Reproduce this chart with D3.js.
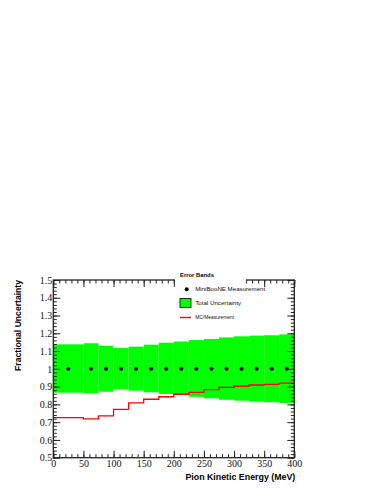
<!DOCTYPE html>
<html>
<head>
<meta charset="utf-8">
<script src="https://cdn.jsdelivr.net/npm/d3@7"></script>
<style>
body { margin: 0; background: #fff; }
</style>
</head>
<body>
<div class="plot"></div>
<script>
// bins (MeV): first bin is 0-50, then 25 MeV wide
const binEdges = [0, 50, 75, 100, 125, 150, 175, 200, 225, 250, 275, 300, 325, 350, 375, 400];
const bandHigh = [1.138, 1.144, 1.130, 1.117, 1.125, 1.136, 1.147, 1.154, 1.162, 1.168, 1.177, 1.183, 1.187, 1.189, 1.194];
const bandLow  = [0.866, 0.862, 0.871, 0.885, 0.877, 0.868, 0.858, 0.853, 0.843, 0.834, 0.826, 0.821, 0.815, 0.812, 0.808];
const mcRatio  = [0.725, 0.719, 0.735, 0.772, 0.808, 0.829, 0.843, 0.857, 0.868, 0.883, 0.896, 0.902, 0.909, 0.913, 0.920];
const measured = [1, 1, 1, 1, 1, 1, 1, 1, 1, 1, 1, 1, 1, 1, 1];

const xTicks = [0, 50, 100, 150, 200, 250, 300, 350, 400];
const yTicks = [0.5, 0.6, 0.7, 0.8, 0.9, 1.0, 1.1, 1.2, 1.3, 1.4, 1.5];
const yLabels = ['0.5', '0.6', '0.7', '0.8', '0.9', '1', '1.1', '1.2', '1.3', '1.4', '1.5'];

const legendItems = ['MiniBooNE Measurement', 'Total Uncertainty', 'MC/Measurement'];

const width = 383;
const height = 495;
const pLeft = 53.3, pRight = 294.3, pTop = 280, pBottom = 457.7;
const axisColor = '#222';
const sans = '"Liberation Sans", Arial, sans-serif';

const svg = d3.select('.plot')
	.append('svg')
	.attr('width', width)
	.attr('height', height);

const x = d3.scaleLinear().domain([0, 400]).range([pLeft, pRight]);
const y = d3.scaleLinear().domain([0.5, 1.5]).range([pBottom, pTop]);

// scale a text's font so that it spans the given width
function fitText(sel, w) {
	sel.style('font-size', '10px');
	const len = sel.node().getComputedTextLength();
	sel.style('font-size', (10 * w / len).toFixed(2) + 'px');
}

const bins = binEdges.slice(0, -1).map((lo, i) => ({
	lo: lo,
	hi: binEdges[i + 1],
	low: bandLow[i],
	high: bandHigh[i],
	mc: mcRatio[i],
	val: measured[i]
}));

// green uncertainty band
svg.selectAll('rect.band')
	.data(bins)
	.enter()
	.append('rect')
	.attr('class', 'band')
	.attr('x', d => x(d.lo))
	.attr('width', d => x(d.hi) - x(d.lo))
	.attr('y', d => y(d.high))
	.attr('height', d => y(d.low) - y(d.high))
	.style('fill', '#00ff00');

// red MC/measurement histogram
const stepPts = bins.map(d => [d.lo, d.mc]);
stepPts.push([400, bins[bins.length - 1].mc]);
svg.append('path')
	.datum(stepPts)
	.attr('d', d3.line().x(d => x(d[0])).y(d => y(d[1])).curve(d3.curveStepAfter))
	.style('fill', 'none')
	.style('stroke', '#ff0000')
	.style('stroke-width', 1.3);

// measurement points
svg.selectAll('circle.pt')
	.data(bins)
	.enter()
	.append('circle')
	.attr('class', 'pt')
	.attr('cx', d => x((d.lo + d.hi) / 2))
	.attr('cy', d => y(d.val))
	.attr('r', 2)
	.style('fill', '#000');

// axes, ticks pointing inwards
function styleAxis(g) {
	g.select('.domain').remove();
	g.selectAll('.tick line').style('stroke', axisColor).style('stroke-width', 1);
	g.selectAll('.tick text')
		.style('font-family', '"Liberation Serif", serif')
		.style('font-size', '10px')
		.style('fill', '#111');
}

const xMinor = d3.range(0, 401, 10);
const yMinor = d3.range(25, 76).map(i => i / 50);

svg.append('g')
	.attr('transform', `translate(0,${pBottom})`)
	.call(d3.axisBottom(x).tickValues(xTicks).tickSize(-7).tickPadding(2.5).tickFormat(d3.format('d')))
	.call(styleAxis);
svg.append('g')
	.attr('transform', `translate(0,${pBottom})`)
	.call(d3.axisBottom(x).tickValues(xMinor).tickSize(-3.5).tickFormat(''))
	.call(styleAxis);

svg.append('g')
	.attr('transform', `translate(0,${pTop})`)
	.call(d3.axisTop(x).tickValues(xTicks).tickSize(-7).tickFormat(''))
	.call(styleAxis);
svg.append('g')
	.attr('transform', `translate(0,${pTop})`)
	.call(d3.axisTop(x).tickValues(xMinor).tickSize(-3.5).tickFormat(''))
	.call(styleAxis);

svg.append('g')
	.attr('transform', `translate(${pLeft},0)`)
	.call(d3.axisLeft(y).tickValues(yTicks).tickSize(-7).tickPadding(1).tickFormat((d, i) => yLabels[i]))
	.call(styleAxis);
svg.append('g')
	.attr('transform', `translate(${pLeft},0)`)
	.call(d3.axisLeft(y).tickValues(yMinor).tickSize(-3.5).tickFormat(''))
	.call(styleAxis);

svg.append('g')
	.attr('transform', `translate(${pRight},0)`)
	.call(d3.axisRight(y).tickValues(yTicks).tickSize(-7).tickFormat(''))
	.call(styleAxis);
svg.append('g')
	.attr('transform', `translate(${pRight},0)`)
	.call(d3.axisRight(y).tickValues(yMinor).tickSize(-3.5).tickFormat(''))
	.call(styleAxis);

// frame
svg.append('rect')
	.attr('x', pLeft)
	.attr('y', pTop)
	.attr('width', pRight - pLeft)
	.attr('height', pBottom - pTop)
	.style('fill', 'none')
	.style('stroke', axisColor)
	.style('stroke-width', 1.3);

// axis titles
svg.append('text')
	.attr('x', pRight + 1)
	.attr('y', 479.5)
	.style('text-anchor', 'end')
	.style('font-family', sans)
	.style('font-weight', 'bold')
	.text('Pion Kinetic Energy (MeV)')
	.call(fitText, 110);

svg.append('text')
	.attr('transform', `translate(20.5,${pTop}) rotate(-90)`)
	.style('text-anchor', 'end')
	.style('font-family', sans)
	.style('font-weight', 'bold')
	.text('Fractional Uncertainty')
	.call(fitText, 91);

// legend
const legend = svg.append('g');
legend.append('rect')
	.attr('x', 175)
	.attr('y', 262)
	.attr('width', 71)
	.attr('height', 60)
	.style('fill', '#fff');

legend.append('text')
	.attr('x', 180)
	.attr('y', 277.3)
	.style('font-family', sans)
	.style('font-weight', 'bold')
	.style('fill', '#000')
	.text('Error Bands')
	.call(fitText, 34);

legend.append('circle')
	.attr('cx', 186.7)
	.attr('cy', 289.2)
	.attr('r', 2)
	.style('fill', '#000');
legend.append('rect')
	.attr('x', 180)
	.attr('y', 298.5)
	.attr('width', 11)
	.attr('height', 9)
	.style('fill', '#00ff00')
	.style('stroke', '#000')
	.style('stroke-width', 0.8);
legend.append('line')
	.attr('x1', 180)
	.attr('x2', 191)
	.attr('y1', 317.5)
	.attr('y2', 317.5)
	.style('stroke', '#ff0000')
	.style('stroke-width', 1.4);

const itemWidths = [70, 46, 39];
legend.selectAll('text.item')
	.data(legendItems)
	.enter()
	.append('text')
	.attr('class', 'item')
	.attr('x', 195.2)
	.attr('y', (d, i) => [289.3, 303, 317.3][i])
	.attr('dy', '0.35em')
	.attr('textLength', (d, i) => itemWidths[i])
	.attr('lengthAdjust', 'spacingAndGlyphs')
	.style('font-family', sans)
	.style('font-size', '6.1px')
	.style('fill', '#111')
	.text(d => d);
</script>
</body>
</html>
